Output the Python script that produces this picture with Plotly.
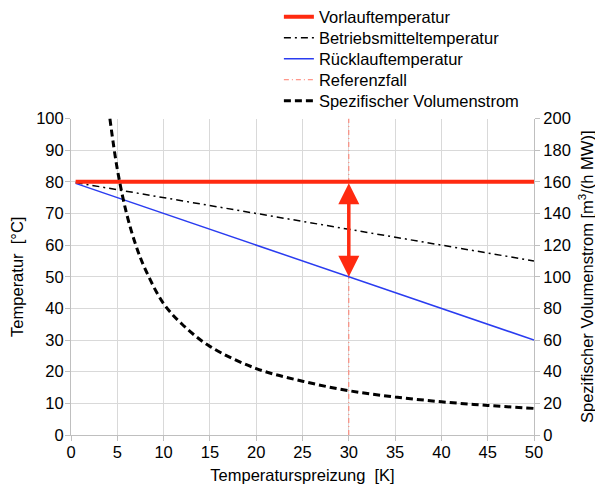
import plotly.graph_objects as go

# Data
spreizung = [0.5, 50]                      # Temperaturspreizung [K]
vorlauf = [80, 80]                         # °C
betriebsmittel = [79.75, 55]               # °C
ruecklauf = [79.5, 30]                     # °C
referenz_x = [30, 30]
referenz_y = [0, 100]
vol_x = [4.2, 5, 6, 7, 8, 10, 12, 15, 20, 25, 30, 35, 40, 45, 50]
vol_y = [200, 168, 140, 120, 105, 83, 70, 56, 42, 34, 28, 24, 21, 18.7, 16.8]  # m³/(h MW)
arrow_x = 30
arrow_from = 80
arrow_to = 50

FONT = "Liberation Sans, Arial, Helvetica, sans-serif"
FS = 16.5

# page body has an 8px default margin -> figure is 8px smaller than the window
W, H = 595, 483

fig = go.Figure()
fig.add_trace(go.Scatter(x=vol_x, y=vol_y, yaxis="y2", mode="lines", name="Spezifischer Volumenstrom",
                         line=dict(color="black", width=3, dash="7px,4px", shape="spline"), legend="legend5"))
fig.add_trace(go.Scatter(x=referenz_x, y=referenz_y, mode="lines", name="Referenzfall",
                         line=dict(color="#ff7a6a", width=1, dash="5px,3px,1px,3px"), legend="legend4"))
fig.add_trace(go.Scatter(x=spreizung, y=betriebsmittel, mode="lines", name="Betriebsmitteltemperatur",
                         line=dict(color="black", width=1.5, dash="7px,4px,2px,4px"), legend="legend2"))
fig.add_trace(go.Scatter(x=spreizung, y=ruecklauf, mode="lines", name="Rücklauftemperatur",
                         line=dict(color="#2a3cf0", width=1.5), legend="legend3"))
fig.add_trace(go.Scatter(x=spreizung, y=vorlauf, mode="lines", name="Vorlauftemperatur",
                         line=dict(color="#ff2a10", width=4), legend="legend"))

fig.add_annotation(x=arrow_x, y=arrow_to, ax=arrow_x, ay=arrow_from, xref="x", yref="y",
                   axref="x", ayref="y", showarrow=True, arrowhead=2, arrowside="end+start",
                   arrowsize=1.2, arrowwidth=3.5, arrowcolor="#ff2a10", text="")

axis_common = dict(showline=True, linecolor="#bfbfbf", linewidth=1, ticks="outside",
                   tickcolor="#bfbfbf", ticklen=5, tickfont=dict(size=FS, color="black", family=FONT),
                   zeroline=False, automargin=False)

legend_centers = [9, 30, 51, 72, 93]   # px from figure top
def leg(cy):
    return dict(xref="paper", yref="container", x=0.449, y=1 - cy / H, xanchor="left",
                yanchor="middle", bgcolor="rgba(0,0,0,0)", font=dict(size=FS, family=FONT),
                itemwidth=30)

fig.update_layout(
    width=W, height=H,
    margin=dict(l=63, r=69, t=109, b=56),
    paper_bgcolor="white", plot_bgcolor="white",
    font=dict(family=FONT, color="black", size=FS),
    showlegend=True,
    legend=leg(legend_centers[0]),
    legend2=leg(legend_centers[1]),
    legend3=leg(legend_centers[2]),
    legend4=leg(legend_centers[3]),
    legend5=leg(legend_centers[4]),
    xaxis=dict(range=[0, 50], dtick=5, showgrid=True, gridcolor="#d9d9d9", ticklabelstandoff=-3,
               title=dict(text="Temperaturspreizung  [K]", font=dict(size=FS), standoff=9),
               **axis_common),
    yaxis=dict(range=[0, 100], dtick=10, showgrid=True, gridcolor="#d9d9d9", ticklabelstandoff=-2,
               title=dict(text="Temperatur  [°C]", font=dict(size=FS), standoff=8),
               **axis_common),
    yaxis2=dict(range=[0, 200], dtick=20, overlaying="y", side="right", showgrid=False,
                ticklabelstandoff=0,
                title=dict(text="Spezifischer Volumenstrom [m<sup>3</sup>/(h MW)]", font=dict(size=FS), standoff=11),
                **axis_common),
)

fig.write_html("out.html")
